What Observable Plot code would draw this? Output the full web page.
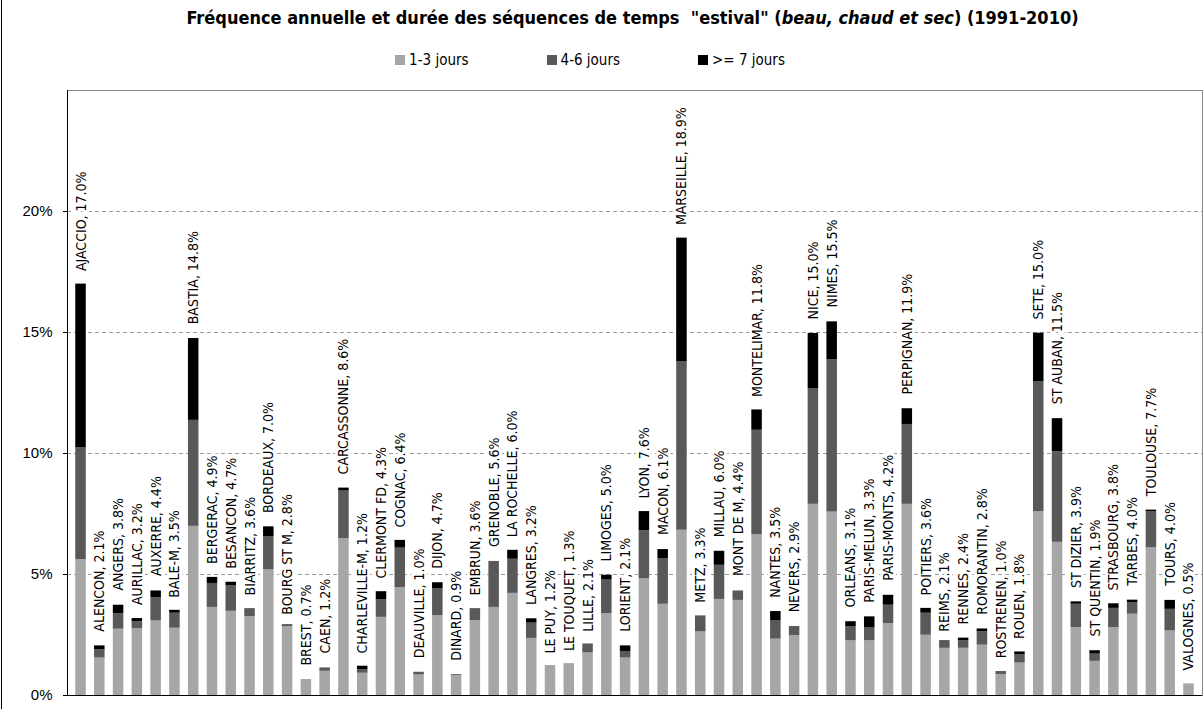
<!DOCTYPE html>
<html>
<head>
<meta charset="utf-8">
<script src="https://cdn.jsdelivr.net/npm/d3@7"></script>
<script src="https://cdn.jsdelivr.net/npm/@observablehq/plot@0.6"></script>
<style>
  body { margin: 0; background: #fff; }
  #wrap { position: relative; width: 1203px; height: 709px; overflow: hidden; background: #fff;
          font-family: "Liberation Sans Narrow", "Arial Narrow", "DejaVu Sans Condensed", sans-serif; }
  #edge { position: absolute; left: 1px; top: 0; width: 1px; height: 709px; background: #000; }
  #title { position: absolute; top: 7px; left: 62px; width: 1141px; text-align: center;
           font-weight: bold; font-size: 18px; color: #000; }
  #legend { position: absolute; top: 51px; left: 0; width: 1180px; display: flex; justify-content: center;
            gap: 78px; font-size: 15px; color: #000; }
  #legend span.item { display: flex; align-items: center; gap: 4px; }
  #legend span.sw { display: inline-block; width: 10px; height: 10px; }
  #chart { position: absolute; left: 0; top: 0; }
</style>
</head>
<body>
<div id="wrap">
  <div id="chart"></div>
  <div id="edge"></div>
  <div id="title">Fréquence annuelle et durée des séquences de temps&nbsp; "estival" (<i>beau, chaud et sec</i>) (1991-2010)</div>
  <div id="legend"></div>
</div>
<script>
const stations = ["AJACCIO","ALENCON","ANGERS","AURILLAC","AUXERRE","BALE-M","BASTIA","BERGERAC","BESANCON","BIARRITZ",
  "BORDEAUX","BOURG ST M","BREST","CAEN","CARCASSONNE","CHARLEVILLE-M","CLERMONT FD","COGNAC","DEAUVILLE","DIJON",
  "DINARD","EMBRUN","GRENOBLE","LA ROCHELLE","LANGRES","LE PUY","LE TOUQUET","LILLE","LIMOGES","LORIENT",
  "LYON","MACON","MARSEILLE","METZ","MILLAU","MONT DE M","MONTELIMAR","NANTES","NEVERS","NICE",
  "NIMES","ORLEANS","PARIS-MELUN","PARIS-MONTS","PERPIGNAN","POITIERS","REIMS","RENNES","ROMORANTIN","ROSTRENEN",
  "ROUEN","SETE","ST AUBAN","ST DIZIER","ST QUENTIN","STRASBOURG","TARBES","TOULOUSE","TOURS","VALOGNES"];

// total frequency shown in the labels (%)
const labelTotals = [17.0,2.1,3.8,3.2,4.4,3.5,14.8,4.9,4.7,3.6,
  7.0,2.8,0.7,1.2,8.6,1.2,4.3,6.4,1.0,4.7,
  0.9,3.6,5.6,6.0,3.2,1.2,1.3,2.1,5.0,2.1,
  7.6,6.1,18.9,3.3,6.0,4.4,11.8,3.5,2.9,15.0,
  15.5,3.1,3.3,4.2,11.9,3.6,2.1,2.4,2.8,1.0,
  1.8,15.0,11.5,3.9,1.9,3.8,4.0,7.7,4.0,0.5];

// 1-3 jours (%)
const days1to3 = [5.62,1.55,2.74,2.77,3.08,2.78,6.99,3.64,3.48,3.26,
  5.19,2.85,0.66,1.00,6.48,0.92,3.23,4.46,0.85,3.30,
  0.82,3.09,3.64,4.22,2.36,1.20,1.28,1.76,3.38,1.55,
  4.82,3.77,6.83,2.63,3.97,3.93,6.64,2.33,2.47,7.90,
  7.58,2.26,2.26,2.97,7.90,2.49,1.95,1.95,2.08,0.87,
  1.34,7.60,6.33,2.81,1.41,2.81,3.36,6.10,2.67,0.48];

// 4-6 jours (%)
const days4to6 = [4.61,0.34,0.64,0.28,0.96,0.62,4.38,0.99,1.05,0.33,
  1.38,0.08,0.00,0.14,1.97,0.14,0.73,1.63,0.11,1.10,
  0.04,0.50,1.90,1.41,0.63,0.02,0.02,0.37,1.39,0.27,
  1.99,1.89,6.97,0.66,1.41,0.39,4.32,0.75,0.38,4.77,
  6.30,0.59,0.55,0.76,3.30,0.91,0.32,0.32,0.55,0.12,
  0.34,5.37,3.74,0.96,0.30,0.79,0.48,1.50,0.89,0.00];

// >= 7 jours (%)
const days7plus = [6.77,0.16,0.35,0.13,0.28,0.12,3.38,0.25,0.15,0.00,
  0.40,0.00,0.00,0.00,0.12,0.15,0.33,0.32,0.00,0.26,
  0.00,0.00,0.00,0.37,0.18,0.00,0.00,0.00,0.20,0.23,
  0.79,0.37,5.10,0.00,0.58,0.00,0.84,0.39,0.00,2.29,
  1.56,0.20,0.44,0.41,0.65,0.20,0.00,0.10,0.12,0.00,
  0.12,2.00,1.37,0.10,0.14,0.19,0.10,0.06,0.37,0.00];

const categories = ["1-3 jours", "4-6 jours", ">= 7 jours"];
const palette = ["#a6a6a6", "#595959", "#000000"];
const yTicks = [0, 5, 10, 15, 20];

const series = [days1to3, days4to6, days7plus];
const rows = [];
stations.forEach((s, i) => series.forEach((arr, k) => rows.push({station: s, cat: categories[k], v: arr[i]})));
const labels = stations.map((s, i) => ({station: s, total: labelTotals[i], text: `${s}, ${labelTotals[i].toFixed(1)}%`}));

const plot = Plot.plot({
  width: 1203,
  height: 709,
  marginTop: 90,
  marginBottom: 14,
  marginLeft: 67,
  marginRight: 1,
  style: {fontFamily: '"Liberation Sans", Arial, sans-serif', fontSize: "15px", color: "#000", background: "white", overflow: "visible"},
  x: {domain: stations, padding: 0.44, axis: null},
  y: {domain: [0, 25], ticks: yTicks, tickFormat: d => d + "%", tickSize: 4, tickPadding: 11, label: null, line: false},
  color: {domain: categories, range: palette},
  marks: [
    Plot.ruleY([5, 10, 15, 20], {stroke: "#9a9a9a", strokeDasharray: "4,3"}),
    Plot.frame({stroke: "#868686"}),
    Plot.barY(rows, {x: "station", y: "v", fill: "cat"}),
    Plot.ruleY([0], {stroke: "#000"}),
    Plot.text(labels, {x: "station", y: "total", text: "text", rotate: -90, textAnchor: "start", dy: -13,
      fill: "#000", stroke: "white", strokeWidth: 6, paintOrder: "stroke",
      fontFamily: '"Liberation Sans Narrow", "Arial Narrow", "DejaVu Sans Condensed", sans-serif', fontSize: 14})
  ]
});

// left axis line, from the y scale's range
const ys = plot.scale("y");
d3.select(plot).insert("line", "g[aria-label=text]")
  .attr("x1", 67.5).attr("x2", 67.5)
  .attr("y1", ys.range[0]).attr("y2", ys.range[1])
  .attr("stroke", "#000");

document.getElementById("chart").appendChild(plot);

const legend = d3.select("#legend");
categories.forEach((c, k) => {
  const it = legend.append("span").attr("class", "item");
  it.append("span").attr("class", "sw").style("background", palette[k]);
  it.append("span").text(c);
});
</script>
</body>
</html>
